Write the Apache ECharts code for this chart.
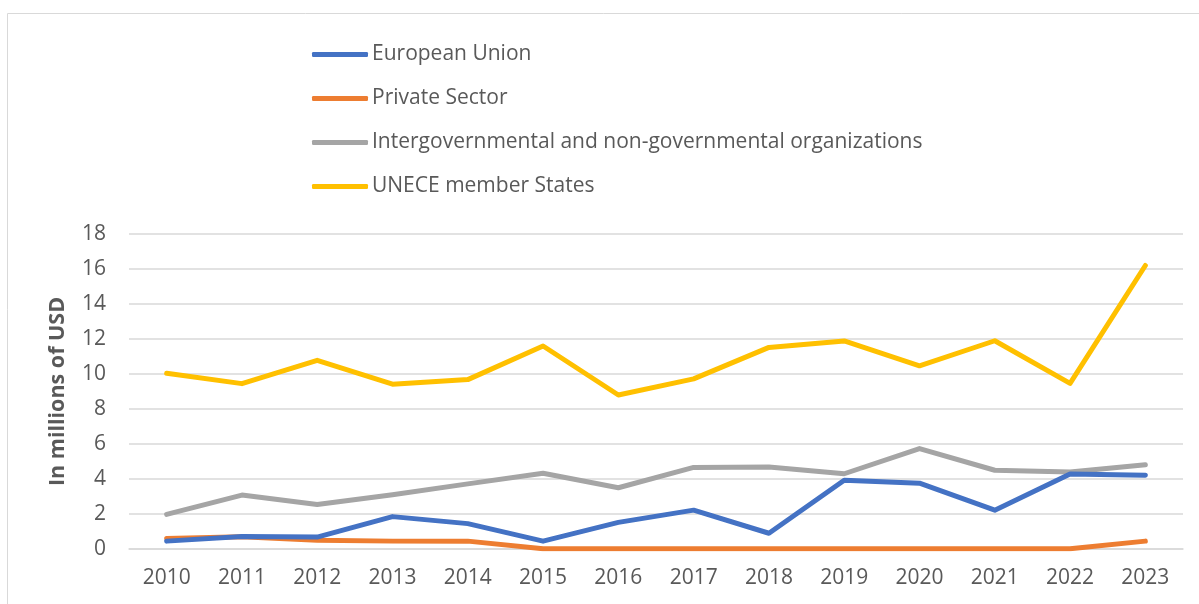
<!DOCTYPE html>
<html><head><meta charset="utf-8">
<script src="https://cdn.jsdelivr.net/npm/echarts@6/dist/echarts.min.js"></script>
<style>html,body{margin:0;padding:0;background:#fff}#c{width:1199px;height:604px}</style>
</head><body><div id="c"></div>
<script>
const years = ['2010','2011','2012','2013','2014','2015','2016','2017','2018','2019','2020','2021','2022','2023'];
const euValues = [0.45,0.72,0.68,1.85,1.45,0.45,1.52,2.22,0.9,3.93,3.76,2.22,4.28,4.22];
const privateValues = [0.6,0.7,0.5,0.45,0.45,0.02,0.02,0.02,0.02,0.02,0.02,0.02,0.02,0.45];
const igoValues = [1.98,3.08,2.54,3.1,3.72,4.33,3.5,4.66,4.69,4.3,5.74,4.5,4.4,4.82];
const uneceValues = [10.04,9.45,10.78,9.42,9.68,11.6,8.8,9.72,11.52,11.89,10.47,11.9,9.46,16.2];
const yTicks = { min: 0, max: 18, interval: 2 };
const seriesNames = ['European Union','Private Sector','Intergovernmental and non-governmental organizations','UNECE member States'];
const colors = ['#4472C4','#ED7D31','#A5A5A5','#FFC000'];
const FONT = 'Open Sans';

const chart = echarts.init(document.getElementById('c'), null, {renderer:'canvas'});
const mk = (name, data, i) => ({
  name, type:'line', data, symbol:'none', smooth:false,
  lineStyle:{width:5, color:colors[i], cap:'round', join:'round'},
  itemStyle:{color:colors[i]}, z: 10 - i
});
chart.setOption({
  animation:false,
  textStyle:{fontFamily:FONT},
  graphic:[{type:'rect', shape:{x:7.5,y:13.5,width:1200,height:600}, style:{fill:'none', stroke:'#d9d9d9', lineWidth:1}, silent:true}],
  legend:{
    orient:'vertical', left:307, top:39, itemGap:23,
    itemWidth:56, itemHeight:5, icon:'roundRect',
    textStyle:{fontFamily:FONT, fontSize:21, color:'#595959', padding:[0,0,0,-1]},
    data: seriesNames
  },
  grid:{left:129, right:16, top:234, bottom:55, containLabel:false},
  xAxis:{type:'category', data:years, boundaryGap:true,
    axisLine:{show:true, lineStyle:{color:'#d9d9d9', width:1.5}}, axisTick:{show:false},
    axisLabel:{fontFamily:FONT, fontSize:21, color:'#595959', margin:19}},
  yAxis:{type:'value', min:yTicks.min, max:yTicks.max, interval:yTicks.interval,
    name:'In millions of USD', nameLocation:'middle', nameGap:60,
    nameTextStyle:{fontFamily:FONT, fontSize:21.5, fontWeight:'bold', color:'#595959'},
    axisLine:{show:false}, axisTick:{show:false},
    axisLabel:{fontFamily:FONT, fontSize:21, color:'#595959', margin:23},
    splitLine:{lineStyle:{color:'#d9d9d9', width:1.5}}},
  series:[mk(seriesNames[0],euValues,0), mk(seriesNames[1],privateValues,1), mk(seriesNames[2],igoValues,2), mk(seriesNames[3],uneceValues,3)]
});
</script></body></html>
